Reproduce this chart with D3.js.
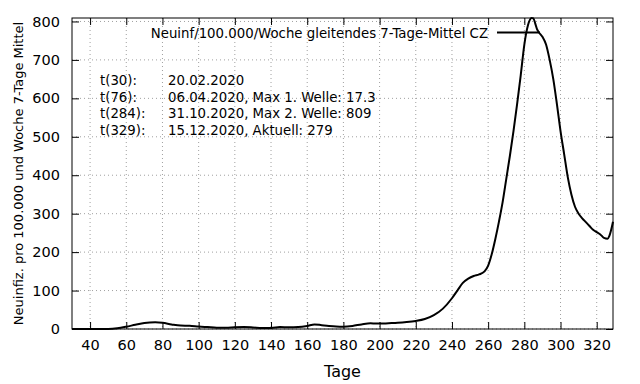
<!DOCTYPE html>
<html>
<head>
<meta charset="utf-8">
<script src="https://cdn.jsdelivr.net/npm/d3@7"></script>
<style>
body { margin: 0; background: #fff; }
text { font-family: "DejaVu Sans", sans-serif; fill: #000; }
</style>
</head>
<body>
<div id="chart"></div>
<script>
// days since start and 7-day average per 100.000 / week (CZ)
var days = [30, 40, 50, 55, 60, 65, 70, 76, 80, 85, 90, 95, 100, 105, 110, 115, 120, 125, 130, 135,
  140, 145, 150, 155, 160, 164, 168, 172, 176, 180, 185, 190, 195, 198, 200, 205, 210, 215, 220, 225,
  230, 235, 240, 243, 246, 249, 252, 255, 258, 260, 262, 264, 266, 268, 270, 272, 274, 276, 278, 280,
  282, 284, 285, 286, 287, 288, 290, 292, 294, 296, 298, 300, 302, 304, 306, 308, 310, 312, 314, 316,
  318, 320, 322, 324, 326, 327, 328, 329];
var values = [0, 0, 0.3, 2, 6, 11, 15.5, 17.3, 16, 12, 9, 8.5, 6.5, 5, 3.5, 3.5, 4.5, 5, 4, 2.5,
  2.5, 5, 4.5, 5, 8, 12, 10, 8, 6.5, 6, 8, 12, 15, 14, 14, 15, 16, 18, 21, 26,
  36, 53, 80, 100, 120, 131, 138, 142, 150, 165, 195, 235, 280, 330, 390, 450, 515, 585, 660, 740,
  790, 809, 808, 795, 780, 772, 760, 740, 700, 650, 585, 515, 455, 395, 350, 318, 300, 288, 278, 268,
  258, 252, 246, 237, 235, 242, 258, 279];
var xTicks = [40, 60, 80, 100, 120, 140, 160, 180, 200, 220, 240, 260, 280, 300, 320];
var yTicks = [0, 100, 200, 300, 400, 500, 600, 700, 800];
var legendLabel = "Neuinf/100.000/Woche gleitendes 7-Tage-Mittel CZ";
var noteKeys = ["t(30):", "t(76):", "t(284):", "t(329):"];
var noteTexts = ["20.02.2020", "06.04.2020, Max 1. Welle: 17.3", "31.10.2020, Max 2. Welle: 809", "15.12.2020, Aktuell: 279"];

var margin = {top: 18, right: 27, bottom: 55, left: 72},
  width = 640 - margin.left - margin.right,
  height = 384 - margin.top - margin.bottom;

var svg = d3.select("#chart")
  .append("svg")
  .attr("width", 640)
  .attr("height", 384)
  .append("g")
  .attr("transform", "translate(" + margin.left + "," + margin.top + ")");

var x = d3.scaleLinear().domain([30, 329]).range([0, width]);
var y = d3.scaleLinear().domain([0, 809]).range([height, 0]);

// grid
svg.append("g").selectAll("line").data(xTicks).enter().append("line")
  .attr("x1", function(d) { return x(d); }).attr("x2", function(d) { return x(d); })
  .attr("y1", 0).attr("y2", height)
  .attr("stroke", "#a0a0a0").attr("stroke-dasharray", "1,3");
svg.append("g").selectAll("line").data(yTicks).enter().append("line")
  .attr("y1", function(d) { return y(d); }).attr("y2", function(d) { return y(d); })
  .attr("x1", 0).attr("x2", width)
  .attr("stroke", "#a0a0a0").attr("stroke-dasharray", "1,3");

// axes, ticks inward and mirrored
var tk = 7;
var xAxis = svg.append("g").attr("transform", "translate(0," + height + ")")
  .call(d3.axisBottom(x).tickValues(xTicks).tickSize(-tk).tickPadding(tk + 4).tickSizeOuter(0));
var yAxis = svg.append("g")
  .call(d3.axisLeft(y).tickValues(yTicks).tickSize(-tk).tickPadding(tk + 5).tickSizeOuter(0));
svg.append("g")
  .call(d3.axisTop(x).tickValues(xTicks).tickSize(-tk).tickFormat("").tickSizeOuter(0));
svg.append("g").attr("transform", "translate(" + width + ",0)")
  .call(d3.axisRight(y).tickValues(yTicks).tickSize(-tk).tickFormat("").tickSizeOuter(0));
svg.selectAll(".domain").remove();
svg.selectAll(".tick line").attr("stroke", "#000");
xAxis.selectAll("text").style("font-size", "14.5px").style("font-family", "DejaVu Sans");
yAxis.selectAll("text").style("font-size", "14.5px").style("font-family", "DejaVu Sans");

svg.append("rect")
  .attr("width", width).attr("height", height)
  .attr("fill", "none").attr("stroke", "#000");

// axis labels
svg.append("text")
  .attr("x", width / 2)
  .attr("y", height + 48)
  .attr("text-anchor", "middle")
  .style("font-size", "16px")
  .text("Tage");
svg.append("text")
  .attr("transform", "rotate(-90)")
  .attr("x", 0 - height / 2)
  .attr("y", -49)
  .attr("text-anchor", "middle")
  .style("font-size", "13px")
  .text("Neuinfiz. pro 100.000 und Woche 7-Tage Mittel");

// legend
svg.append("text")
  .attr("x", 488 - margin.left)
  .attr("y", 38 - margin.top)
  .attr("text-anchor", "end")
  .style("font-size", "13.3px")
  .text(legendLabel);
svg.append("line")
  .attr("x1", 497 - margin.left).attr("x2", 540 - margin.left)
  .attr("y1", 32.5 - margin.top).attr("y2", 32.5 - margin.top)
  .attr("stroke", "#000").attr("stroke-width", 2);

// notes
noteKeys.forEach(function(k, i) {
  svg.append("text").attr("x", 100 - margin.left).attr("y", 85 - margin.top + i * 16.7)
    .style("font-size", "13.3px").text(k);
  svg.append("text").attr("x", 168 - margin.left).attr("y", 85 - margin.top + i * 16.7)
    .style("font-size", "13.3px").text(noteTexts[i]);
});

// curve
var data = days.map(function(d, i) { return {t: d, v: values[i]}; });
svg.append("path")
  .datum(data)
  .attr("fill", "none")
  .attr("stroke", "#000")
  .attr("stroke-width", 2)
  .attr("stroke-linejoin", "round")
  .attr("d", d3.line()
    .curve(d3.curveMonotoneX)
    .x(function(d) { return x(d.t); })
    .y(function(d) { return y(d.v); }));
</script>
</body>
</html>
